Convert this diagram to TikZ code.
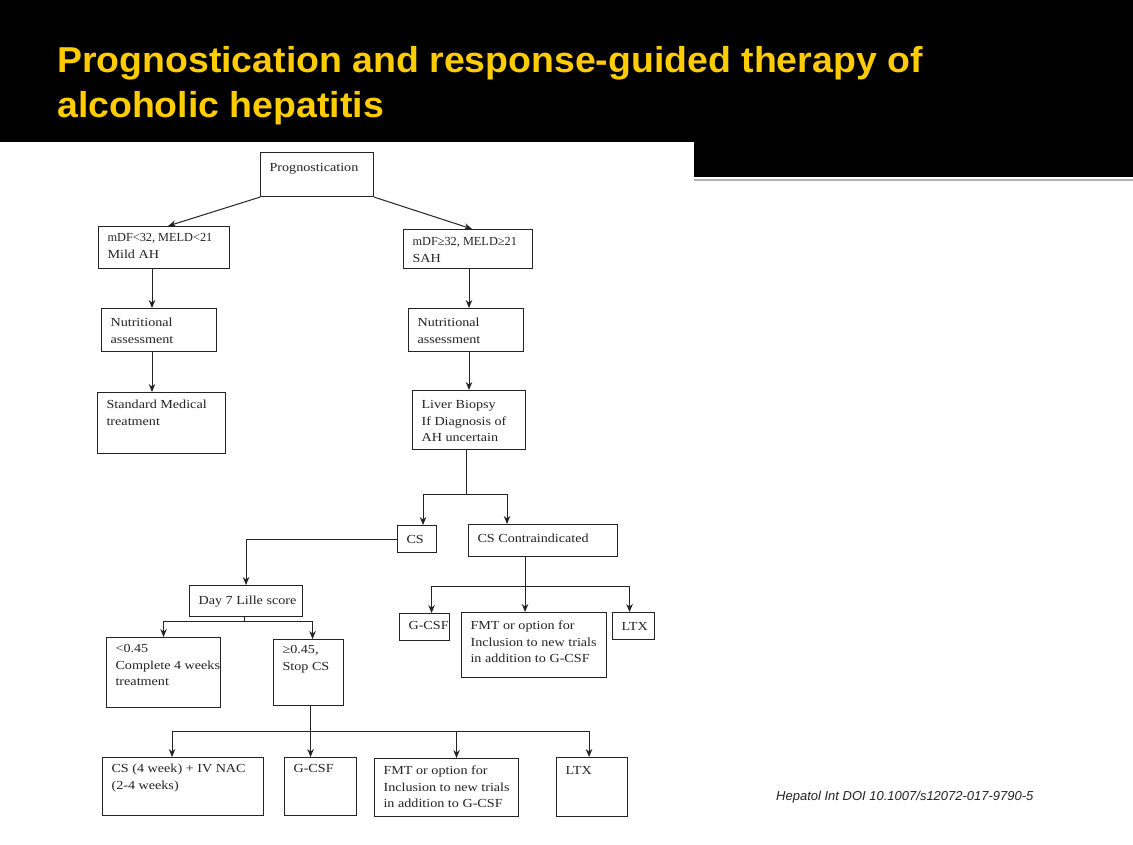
\documentclass[tikz,border=0pt]{standalone}
\usepackage{fontspec}
\setmainfont{Liberation Serif}[FakeStretch=1.15]
\newfontfamily\plainserif{Liberation Serif}
\newfontfamily\titlefont{Liberation Sans}[FakeStretch=1.04]
\newfontfamily\citefont{Liberation Sans}
\usetikzlibrary{positioning, calc, arrows.meta}
\definecolor{slideyellow}{RGB}{255,204,0}
\definecolor{inkgray}{RGB}{35,35,35}
\tikzset{
	flowbox/.style={draw=inkgray, line width=1.1pt, inner sep=0pt, anchor=north west,
		text=inkgray, font=\fontsize{12.3}{16.5}\selectfont}
}
\tikzset{
	flowline/.style={draw=inkgray, line width=1pt}
}
\tikzset{
	titletext/.style={anchor=base west, inner sep=0pt, text=slideyellow,
		font=\titlefont\bfseries\fontsize{36}{45}\selectfont}
}
\newcommand{\boxtxt}[4][16]{\parbox[c][#3pt][t]{#2pt}{\raggedright\leftskip=9pt\rule{0pt}{#1pt}#4}}

\begin{document}
\begin{tikzpicture}[x=1pt, y=-1pt, >={Stealth[length=8pt,width=6.5pt]}]
      \useasboundingbox (0,0) rectangle (1133,845);
      \fill[white] (0,0) rectangle (1133,845);
      % slide header
      \fill[black] (0,0) rectangle (1133,142);
      \fill[black] (694,142) rectangle (1133,177);
      \draw[gray!60, line width=1.5pt] (694,180) -- (1133,180);
      \node[titletext] (title1) at (57,73) {Prognostication and response-guided therapy of};
      \node[titletext] (title2) at (57,118) {alcoholic hepatitis};
      % boxes, top to bottom
      \node[flowbox] (prog) at (260,152) {\boxtxt[19]{113}{44}{Prognostication}};
      \node[flowbox] (mild) at (98,226) {\boxtxt[15]{131}{42}{{\plainserif mDF<32, MELD<21}\\Mild AH}};
      \node[flowbox] (sah) at (403,229) {\boxtxt[16]{129}{39}{{\plainserif mDF≥32, MELD≥21}\\SAH}};
      \node[flowbox] (nutL) at (101,308) {\boxtxt[18]{115}{43}{Nutritional\\assessment}};
      \node[flowbox] (nutR) at (408,308) {\boxtxt[18]{115}{43}{Nutritional\\assessment}};
      \node[flowbox] (smt) at (97,392) {\boxtxt[16]{128}{61}{Standard Medical\\treatment}};
      \node[flowbox] (biopsy) at (412,390) {\boxtxt[18]{113}{59}{Liver Biopsy\\If Diagnosis of\\AH uncertain}};
      \node[flowbox] (cs) at (397,525) {\boxtxt[18]{39}{27}{CS}};
      \node[flowbox] (csno) at (468,524) {\boxtxt[18]{149}{32}{CS Contraindicated}};
      \node[flowbox] (lille) at (189,585) {\boxtxt[19]{113}{31}{Day 7 Lille score}};
      \node[flowbox] (gcsfA) at (399,613) {\boxtxt[16]{50}{27}{G-CSF}};
      \node[flowbox] (fmtA) at (461,612) {\boxtxt[17]{145}{65}{FMT or option for\\Inclusion to new trials\\in addition to G-CSF}};
      \node[flowbox] (ltxA) at (612,612) {\boxtxt[18]{42}{27}{LTX}};
      \node[flowbox] (low) at (106,637) {\boxtxt[15]{114}{70}{<0.45\\\mbox{Complete 4 weeks}\\treatment}};
      \node[flowbox] (high) at (273,639) {\boxtxt[14]{70}{66}{≥0.45,\\Stop CS}};
      \node[flowbox] (csnac) at (102,757) {\boxtxt[15]{161}{58}{CS (4 week) + IV NAC\\(2-4 weeks)}};
      \node[flowbox] (gcsfB) at (284,757) {\boxtxt[15]{72}{58}{G-CSF}};
      \node[flowbox] (fmtB) at (374,758) {\boxtxt[16]{144}{58}{FMT or option for\\Inclusion to new trials\\in addition to G-CSF}};
      \node[flowbox] (ltxB) at (556,757) {\boxtxt[17]{71}{59}{LTX}};
      \node[anchor=base west, inner sep=0pt, text=inkgray, font=\citefont\itshape\fontsize{13}{16}\selectfont] (cite) at (776,800) {Hepatol Int DOI 10.1007/s12072-017-9790-5};
      % connectors
      \coordinate (cl) at (152,0);
      \coordinate (cr) at (469,0);
      \draw[flowline,->] (prog.south west) -- ([xshift=4pt]mild.north);
      \draw[flowline,->] (prog.south east) -- ([xshift=4pt]sah.north);
      \draw[flowline,->] (mild.south -| cl) -- (nutL.north -| cl);
      \draw[flowline,->] (nutL.south -| cl) -- (smt.north -| cl);
      \draw[flowline,->] (sah.south -| cr) -- (nutR.north -| cr);
      \draw[flowline,->] (nutR.south -| cr) -- (biopsy.north -| cr);
      \draw[flowline] ([xshift=-3pt]biopsy.south) -- ++(0,44) coordinate (j1);
      \draw[flowline,->] (j1) -| ([xshift=6pt]cs.north);
      \draw[flowline,->] (j1) -| ([xshift=-36pt]csno.north);
      \draw[flowline,->] (cs.west) -| (lille.north);
      \draw[flowline] ([xshift=-18pt]csno.south) -- ++(0,29) coordinate (j2);
      \draw[flowline,->] (j2) -| ([xshift=7pt]gcsfA.north);
      \draw[flowline,->] (j2) -- (j2 |- fmtA.north);
      \draw[flowline,->] (j2) -| ([xshift=-4pt]ltxA.north);
      \draw[flowline] ([xshift=-2pt]lille.south) -- ++(0,4) coordinate (j3);
      \draw[flowline,->] (j3) -| (low.north);
      \draw[flowline,->] (j3) -| ([xshift=4pt]high.north);
      \draw[flowline] ([xshift=2pt]high.south) -- ++(0,25) coordinate (j4);
      \draw[flowline,->] (j4) -| ([xshift=-11pt]csnac.north);
      \draw[flowline,->] (j4) -- (j4 |- gcsfB.north);
      \draw[flowline,->] (j4) -| ([xshift=10pt]fmtB.north);
      \draw[flowline,->] (j4) -| ([xshift=-3pt]ltxB.north);
\end{tikzpicture}
\end{document}
